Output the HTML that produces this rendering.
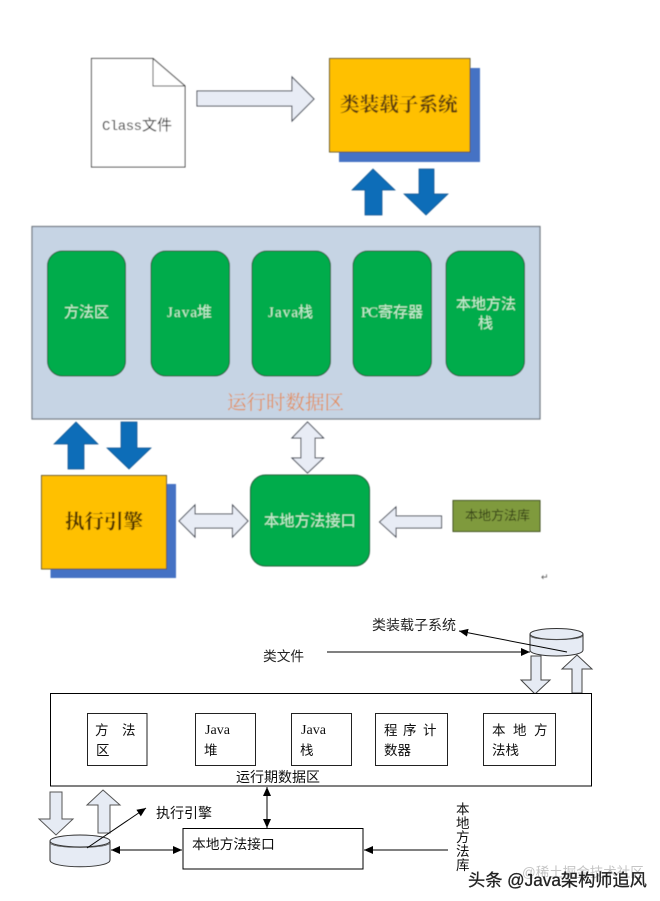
<!DOCTYPE html>
<html>
<head>
<meta charset="utf-8">
<style>
html,body{margin:0;padding:0;background:#fff;}
svg{display:block;}
.sf{font-family:"Liberation Serif","Noto Serif CJK SC",serif;}
.ss{font-family:"Liberation Sans","WenQuanYi Zen Hei","Noto Sans CJK SC",sans-serif;}
</style>
</head>
<body>
<svg width="660" height="901" viewBox="0 0 660 901" xmlns="http://www.w3.org/2000/svg">
<defs>
<filter id="b" x="-5%" y="-5%" width="110%" height="110%"><feGaussianBlur stdDeviation="0.45"/></filter>
<filter id="b2" x="-5%" y="-5%" width="110%" height="110%"><feGaussianBlur stdDeviation="0.25"/></filter>
<marker id="ah" markerWidth="10" markerHeight="8" refX="9" refY="4" orient="auto-start-reverse" markerUnits="userSpaceOnUse"><path d="M0,0 L9,4 L0,8 Z" fill="#000"/></marker>
</defs>
<rect width="660" height="901" fill="#fff"/>

<g filter="url(#b)">
  <!-- document -->
  <path d="M91.5,58.5 H153 L185,86 V167 H91.5 Z" fill="#fff" stroke="#333" stroke-width="1"/>
  <path d="M153,58.5 V86 H185" fill="none" stroke="#333" stroke-width="1"/>
  <text class="ss" x="102" y="130" font-size="14" fill="#333" textLength="40" lengthAdjust="spacing" style="font-family:'Liberation Mono',monospace">Class</text>
  <text class="ss" x="142" y="130" font-size="15" fill="#333">文件</text>

  <!-- arrow to loader -->
  <polygon points="197,91 292,91 292,77 314,99 292,121 292,106 197,106" fill="#e8ecf5" stroke="#444a55" stroke-width="1"/>

  <!-- loader box -->
  <rect x="339" y="68" width="141" height="94" fill="#4472c4"/>
  <rect x="329.5" y="58.5" width="140.5" height="93.5" fill="#ffc000" stroke="#5f5428" stroke-width="1"/>
  <text class="sf" x="340" y="111" font-size="19.6" font-weight="700" fill="#5c3d08">类装载子系统</text>

  <!-- blue arrows top -->
  <polygon points="373,169 395,190 382,190 382,215 365,215 365,190 352,190" fill="#0b6db8" stroke="#0b4f8a" stroke-width="0.7"/>
  <polygon points="419,169 434,169 434,194 448,194 426,215 404,194 419,194" fill="#0b6db8" stroke="#0b4f8a" stroke-width="0.7"/>

  <!-- runtime panel -->
  <rect x="32" y="226.5" width="508" height="192.5" fill="#c6d4e4" stroke="#6f7780" stroke-width="1.2"/>
  <rect x="47.5" y="251" width="78" height="125" rx="15" fill="#00ac4c" stroke="#1f5c38" stroke-width="1"/>
  <rect x="151" y="251" width="78.5" height="125" rx="15" fill="#00ac4c" stroke="#1f5c38" stroke-width="1"/>
  <rect x="252" y="251" width="78.5" height="125" rx="15" fill="#00ac4c" stroke="#1f5c38" stroke-width="1"/>
  <rect x="353" y="251" width="78.5" height="125" rx="15" fill="#00ac4c" stroke="#1f5c38" stroke-width="1"/>
  <rect x="446" y="251" width="78.5" height="125" rx="15" fill="#00ac4c" stroke="#1f5c38" stroke-width="1"/>
  <g class="ss" fill="#c9eed4" font-size="15">
    <text x="64" y="317">方法区</text>
    <text x="167" y="317" textLength="30" lengthAdjust="spacing" style="font-family:'Liberation Serif',serif">Java</text><text x="197" y="317">堆</text>
    <text x="268" y="317" textLength="30" lengthAdjust="spacing" style="font-family:'Liberation Serif',serif">Java</text><text x="298" y="317">栈</text>
    <text x="361" y="317" textLength="17" lengthAdjust="spacing" style="font-family:'Liberation Serif',serif">PC</text><text x="378" y="317">寄存器</text>
    <text x="456" y="309">本地方法</text>
    <text x="478" y="328">栈</text>
  </g>
  <text class="sf" x="227" y="409" font-size="19.5" fill="#e08f5c">运行时数据区</text>

  <!-- blue arrows lower -->
  <polygon points="76,422 98,444 84,444 84,469 68,469 68,444 54,444" fill="#0b6db8" stroke="#0b4f8a" stroke-width="0.7"/>
  <polygon points="121,422 137,422 137,448 151,448 129,469 107,448 121,448" fill="#0b6db8" stroke="#0b4f8a" stroke-width="0.7"/>

  <!-- engine -->
  <rect x="50.5" y="484" width="125.5" height="94" fill="#4472c4"/>
  <rect x="41.5" y="475.5" width="125" height="93.5" fill="#ffc000" stroke="#5f5428" stroke-width="1"/>
  <text class="sf" x="65" y="528" font-size="19.5" font-weight="700" fill="#4f3506">执行引擎</text>

  <!-- vertical double arrow -->
  <polygon points="307.5,422 323.5,438 315,438 315,458 323.5,458 307.5,473 292,458 301,458 301,438 292,438" fill="#e8ecf5" stroke="#444a55" stroke-width="1"/>

  <!-- horizontal double arrow -->
  <polygon points="179,521 195,505 195,514 232.5,514 232.5,505 248,521 232.5,537 232.5,528 195,528 195,537" fill="#e8ecf5" stroke="#444a55" stroke-width="1"/>

  <!-- native interface -->
  <rect x="250.5" y="475" width="119" height="91" rx="15" fill="#00ac4c" stroke="#1f5c38" stroke-width="1"/>
  <text class="ss" x="264" y="526" font-size="15.3" fill="#c9eed4">本地方法接口</text>

  <!-- left arrow -->
  <polygon points="379.5,522 396,507 396,516 441.5,516 441.5,528 396,528 396,537" fill="#e8ecf5" stroke="#444a55" stroke-width="1"/>

  <!-- native lib -->
  <rect x="453" y="500.5" width="87" height="31" fill="#7f9a3c" stroke="#3e4e22" stroke-width="1"/>
  <text class="ss" x="465" y="520" font-size="13" fill="#333d14">本地方法库</text>

  <text class="ss" x="541" y="580" font-size="9" fill="#555">↵</text>
</g>

<g filter="url(#b2)">
  <!-- loader cylinder -->
  <path d="M530,634 V650 C530,658 583,658 583,650 V634" fill="#e6ebf4" stroke="#333" stroke-width="1"/>
  <ellipse cx="556.5" cy="634" rx="26.5" ry="5.5" fill="#e6ebf4" stroke="#333" stroke-width="1"/>
  <path d="M530,636 C534,641 579,641 583,636" fill="none" stroke="#555" stroke-width="0.7"/>

  <!-- file and loader labels -->
  <text class="ss" x="372" y="630" font-size="14" fill="#222">类装载子系统</text>
  <text class="ss" x="263" y="661" font-size="13.7" fill="#222">类文件</text>
  <line x1="327" y1="652" x2="530" y2="652" stroke="#000" stroke-width="1" marker-end="url(#ah)"/>
  <line x1="567" y1="652" x2="459" y2="631" stroke="#000" stroke-width="1" marker-end="url(#ah)"/>

  <polygon points="531,656 541,656 541,680 550,680 535,694 521,680 531,680" fill="#e6ebf4" stroke="#444" stroke-width="1"/>
  <polygon points="577,655 592,669 582,669 582,693 572,693 572,669 562,669" fill="#e6ebf4" stroke="#444" stroke-width="1"/>

  <!-- big box -->
  <rect x="50.5" y="693.5" width="541" height="92.5" fill="#fff" stroke="#000" stroke-width="1"/>
  <g fill="#fff" stroke="#222" stroke-width="1">
    <rect x="87.5" y="713.5" width="59.5" height="52"/>
    <rect x="195.5" y="713.5" width="60" height="52"/>
    <rect x="291.5" y="713.5" width="60" height="52"/>
    <rect x="375.5" y="713.5" width="72" height="52"/>
    <rect x="483.5" y="713.5" width="72" height="52"/>
  </g>
  <g class="ss" fill="#111" font-size="13.5">
    <text x="95" y="735">方</text><text x="122" y="735">法</text><text x="96" y="755">区</text>
    <text x="205" y="734" font-size="13.5" textLength="25" lengthAdjust="spacingAndGlyphs" style="font-family:'Liberation Serif',serif">Java</text><text x="204" y="755">堆</text>
    <text x="301" y="734" font-size="13.5" textLength="25" lengthAdjust="spacingAndGlyphs" style="font-family:'Liberation Serif',serif">Java</text><text x="300" y="755">栈</text>
    <text x="384" y="735">程</text><text x="403" y="735">序</text><text x="423" y="735">计</text>
    <text x="384" y="755">数器</text>
    <text x="492" y="735">本</text><text x="513" y="735">地</text><text x="534" y="735">方</text>
    <text x="492" y="755">法栈</text>
  </g>
  <text class="ss" x="236" y="782" font-size="14" fill="#111">运行期数据区</text>

  <!-- engine cylinder arrows -->
  <polygon points="50,792 62,792 62,819 73,819 56,835 39,819 50,819" fill="#e6ebf4" stroke="#555" stroke-width="1"/>
  <polygon points="103,790 120,805 110,805 110,833 98,833 98,805 87,805" fill="#e6ebf4" stroke="#555" stroke-width="1"/>

  <path d="M50,841 V860 C50,869 110,869 110,860 V841" fill="#e6ebf4" stroke="#333" stroke-width="1"/>
  <ellipse cx="80" cy="841" rx="30" ry="6" fill="#e6ebf4" stroke="#333" stroke-width="1"/>
  <path d="M50,843 C54,849 106,849 110,843" fill="none" stroke="#555" stroke-width="0.7"/>

  <line x1="87" y1="848" x2="146" y2="808" stroke="#000" stroke-width="1" marker-end="url(#ah)"/>
  <text class="ss" x="156" y="818" font-size="14" fill="#111">执行引擎</text>

  <line x1="111" y1="850" x2="182" y2="850" stroke="#000" stroke-width="1" marker-start="url(#ah)" marker-end="url(#ah)"/>
  <line x1="267" y1="787" x2="267" y2="828" stroke="#000" stroke-width="1" marker-start="url(#ah)" marker-end="url(#ah)"/>

  <rect x="183" y="828.5" width="180" height="40.5" fill="#fff" stroke="#000" stroke-width="1"/>
  <text class="ss" x="192" y="849" font-size="13.8" fill="#111">本地方法接口</text>

  <line x1="448" y1="850" x2="364" y2="850" stroke="#000" stroke-width="1" marker-end="url(#ah)"/>

  <g class="ss" font-size="13.5" fill="#111">
    <text x="456" y="814">本</text>
    <text x="456" y="828">地</text>
    <text x="456" y="842">方</text>
    <text x="456" y="856">法</text>
    <text x="456" y="870">库</text>
  </g>

  <!-- watermarks -->
  <text class="ss" x="522" y="877" font-size="13.5" fill="#c4c4c4">@稀土掘金技术社区</text>
  <text class="ss" x="468" y="886" font-size="17.2" fill="#222" stroke="#222" stroke-width="0.3">头条 @Java架构师追风</text>
</g>
</svg>
</body>
</html>
